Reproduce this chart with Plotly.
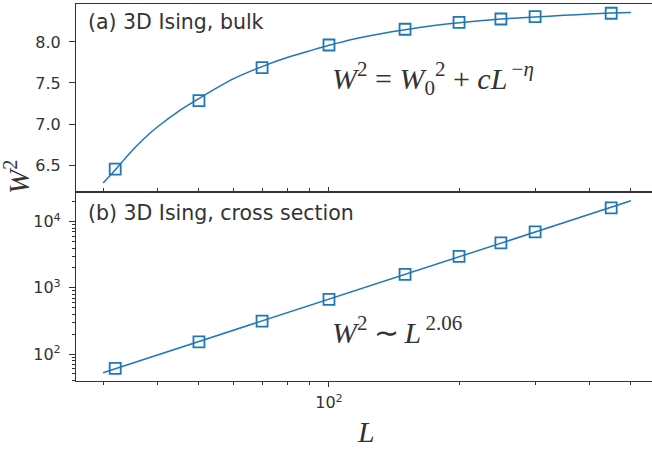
import plotly.graph_objects as go

# ---- data ----
L_pts = [32, 50, 70, 100, 150, 200, 250, 300, 450]
W2_bulk = [6.45, 7.284, 7.687, 7.963, 8.155, 8.24, 8.28, 8.31, 8.35]
W2_cross = [60.8, 153, 315, 670, 1600, 2990, 4800, 7040, 16200]

# fit curve
L_fit_bulk = [30, 32, 34, 36, 38, 40, 45, 50, 55, 60, 70, 80, 90, 100, 115, 130, 150, 175, 200, 250, 300, 350, 400, 450, 500]
W2_fit_bulk = [6.28, 6.44, 6.60, 6.74, 6.86, 6.96, 7.16, 7.31, 7.44, 7.55, 7.70, 7.81, 7.89, 7.96, 8.04, 8.095,
               8.15, 8.20, 8.235, 8.28, 8.305, 8.325, 8.34, 8.352, 8.36]
L_fit_cross = [30, 500]
W2_fit_cross = [52.2, 20700]

x_major = [100]
x_minor = [30, 40, 50, 60, 70, 80, 90, 200, 300, 400, 500]
y_ticks_a = [6.5, 7.0, 7.5, 8.0]
y_major_b = [100, 1000, 10000]
y_major_b_text = ["10<sup>2</sup>", "10<sup>3</sup>", "10<sup>4</sup>"]
y_minor_b = [m * 10 ** e for e in (1, 2, 3, 4) for m in range(2, 10)]

BLUE = "#1f77b4"
TXT = "#333333"
W, H = 652, 449
ML, MR, MT, MB = 76, 0, 4, 68
PW = W - ML - MR
PH = H - MT - MB

def px(x):
    return (x - ML) / PW

def py(y):
    return (H - MB - y) / PH

fig = go.Figure()

# top panel
fig.add_trace(go.Scatter(x=L_fit_bulk, y=W2_fit_bulk, mode="lines", line=dict(color=BLUE, width=1.5, shape="spline", smoothing=0.6),
                         xaxis="x", yaxis="y", showlegend=False, hoverinfo="skip"))
fig.add_trace(go.Scatter(x=L_pts, y=W2_bulk, mode="markers",
                         marker=dict(symbol="square-open", size=11, color=BLUE, line=dict(width=1.8, color=BLUE)),
                         xaxis="x", yaxis="y", showlegend=False))
# bottom panel
fig.add_trace(go.Scatter(x=L_fit_cross, y=W2_fit_cross, mode="lines", line=dict(color=BLUE, width=1.5),
                         xaxis="x2", yaxis="y2", showlegend=False, hoverinfo="skip"))
fig.add_trace(go.Scatter(x=L_pts, y=W2_cross, mode="markers",
                         marker=dict(symbol="square-open", size=11, color=BLUE, line=dict(width=1.8, color=BLUE)),
                         xaxis="x2", yaxis="y2", showlegend=False))

split = 189 / PH
xrange_log = [1.4144, 2.7477]
axis_common = dict(showline=True, linecolor=TXT, linewidth=1.2, showgrid=False, zeroline=False,
                   tickcolor=TXT, tickfont=dict(family="DejaVu Sans", size=16, color=TXT))

fig.update_layout(
    width=W, height=H,
    margin=dict(l=ML, r=MR, t=MT, b=MB),
    paper_bgcolor="white", plot_bgcolor="white",
    xaxis=dict(type="log", range=xrange_log, domain=[0, 1], anchor="y", mirror=True,
               tickmode="array", tickvals=x_major, showticklabels=False, ticks="inside", ticklen=5, tickwidth=1,
               minor=dict(tickmode="array", tickvals=x_minor, ticks="inside", ticklen=4, tickcolor=TXT, tickwidth=1),
               **axis_common),
    yaxis=dict(range=[6.171, 8.463], domain=[split, 1], anchor="x",
               tickmode="array", tickvals=y_ticks_a, tickformat=".1f", ticks="outside", ticklen=6, tickwidth=1,
               ticklabelstandoff=5, **axis_common),
    xaxis2=dict(type="log", range=xrange_log, domain=[0, 1], anchor="y2", mirror=True,
                tickmode="array", tickvals=x_major, ticktext=["10<sup>2</sup>"], ticks="outside", ticklen=5, tickwidth=1,
                ticklabelstandoff=2,
                minor=dict(tickmode="array", tickvals=x_minor, ticks="outside", ticklen=3, tickcolor=TXT, tickwidth=1),
                **axis_common),
    yaxis2=dict(type="log", range=[1.592, 4.449], domain=[0, split], anchor="x2",
                tickmode="array", tickvals=y_major_b, ticktext=y_major_b_text, ticks="outside", ticklen=6, tickwidth=1,
                ticklabelstandoff=5,
                minor=dict(tickmode="array", tickvals=y_minor_b, ticks="outside", ticklen=3, tickcolor=TXT, tickwidth=1),
                **axis_common),
)

SERIF = "Liberation Serif"
ann = [
    dict(text="(a) 3D Ising, bulk", x=px(86), y=py(22), xanchor="left", yanchor="middle",
         font=dict(family="DejaVu Sans", size=20.5, color=TXT)),
    dict(text="(b) 3D Ising, cross section", x=px(86), y=py(213), xanchor="left", yanchor="middle",
         font=dict(family="DejaVu Sans", size=20.5, color=TXT)),
    dict(text="<i>W</i><sup>2</sup> = <i>W</i><sub>0</sub><sup>2</sup> + <i>cL</i><sup>\u2009−<i>η</i></sup>",
         x=px(330), y=py(78), xanchor="left", yanchor="middle",
         font=dict(family=SERIF, size=30, color=TXT)),
    dict(text="<i>W</i><sup>2</sup>\u2009∼\u2009<i>L</i><sup>\u20092.06</sup>",
         x=px(330), y=py(330), xanchor="left", yanchor="middle",
         font=dict(family=SERIF, size=30, color=TXT)),
    dict(text="<i>L</i>", x=px(366), y=py(431), xanchor="center", yanchor="middle",
         font=dict(family=SERIF, size=30, color=TXT)),
    dict(text="<i>W</i><sup>2</sup>", x=px(17), y=py(177), xanchor="center", yanchor="middle", textangle=-90,
         font=dict(family=SERIF, size=29, color=TXT)),
]
for a in ann:
    a.update(xref="paper", yref="paper", showarrow=False)
fig.update_layout(annotations=ann)

fig.write_html("out.html")
